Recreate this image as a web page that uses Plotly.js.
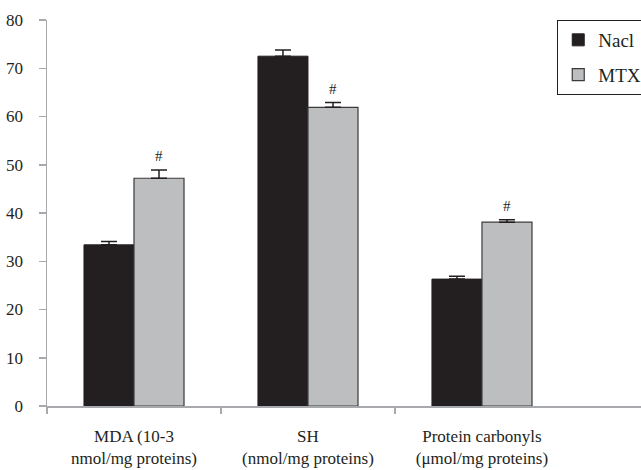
<!DOCTYPE html>
<html><head><meta charset="utf-8">
<script src="https://cdn.plot.ly/plotly-3.0.1.min.js"></script>
<style>html,body{margin:0;padding:0;background:#fff}#chart{width:641px;height:470px}</style>
</head><body><div id="chart"></div>
<script>
var categories = ["MDA (10-3<br>nmol/mg proteins)", "SH<br>(nmol/mg proteins)", "Protein carbonyls<br>(μmol/mg proteins)"];
var catPos = [0, 1, 2];
var naclValues = [33.4, 72.5, 26.3];
var naclErrors = [0.7, 1.3, 0.6];
var mtxValues = [47.2, 61.9, 38.1];
var mtxErrors = [1.7, 1.0, 0.5];
var mtxSig = ["#", "#", "#"];
var yTicks = [0, 10, 20, 30, 40, 50, 60, 70, 80];

var dark = "#231f20", grey = "#bcbec0", axisCol = "#a7a9ac";
var fontFam = "'Liberation Serif', 'DejaVu Serif', serif";

var traces = [
  {type: "bar", name: "Nacl", legendgroup: "a", x: catPos, y: naclValues,
   marker: {color: dark, line: {color: dark, width: 1}},
   error_y: {type: "data", array: naclErrors, symmetric: false, arrayminus: naclErrors.map(function(){return 0;}), color: dark, thickness: 1.5, width: 8}},
  {type: "bar", name: "MTX", legendgroup: "b", x: catPos, y: mtxValues,
   marker: {color: grey, line: {color: "#3a3a3a", width: 1.2}},
   error_y: {type: "data", array: mtxErrors, symmetric: false, arrayminus: mtxErrors.map(function(){return 0;}), color: dark, thickness: 1.5, width: 8}},
  {type: "scatter", x: [-0.5, 0.5, 1.5], y: [0, 0, 0], xaxis: "x2", mode: "markers", marker: {opacity: 0}, showlegend: false, hoverinfo: "skip"}
];

var offset = 0.2874 / 2;
var annotations = mtxSig.map(function(s, i){
  return {x: catPos[i] + offset, y: mtxValues[i] + mtxErrors[i], xref: "x", yref: "y", text: s,
    showarrow: false, yanchor: "bottom", yshift: 4, font: {family: fontFam, size: 15, color: dark}};
});

var layout = {
  width: 641, height: 470,
  margin: {l: 47, r: 0, t: 20, b: 64, pad: 0, autoexpand: false},
  paper_bgcolor: "#fff", plot_bgcolor: "#fff",
  barmode: "group", bargap: 0.425, bargroupgap: 0,
  font: {family: fontFam, size: 17, color: dark},
  xaxis: {range: [-0.5, 2.914], tickvals: catPos, ticktext: categories, ticks: "", showline: true,
    linecolor: axisCol, linewidth: 1.5, showgrid: false, zeroline: false, ticklabelstandoff: 14,
    tickfont: {family: fontFam, size: 17, color: dark}, fixedrange: true, automargin: false},
  xaxis2: {range: [-0.5, 2.914], overlaying: "x", tickvals: [-0.5, 0.5, 1.5], ticktext: ["", "", ""],
    ticks: "outside", ticklen: 7, tickcolor: axisCol, tickwidth: 1.5, showline: false, showgrid: false,
    zeroline: false, side: "bottom", anchor: "y", automargin: false},
  yaxis: {range: [0, 80], tickvals: yTicks, ticks: "outside", ticklen: 7, tickcolor: axisCol, tickwidth: 1.5,
    showline: true, linecolor: axisCol, linewidth: 1.5, showgrid: false, zeroline: false, ticklabelstandoff: 12,
    tickfont: {family: fontFam, size: 17, color: dark}, automargin: false},
  legend: {x: 0.859, xanchor: "left", y: 1, yanchor: "top", bgcolor: "#fff", bordercolor: dark, borderwidth: 1,
    font: {family: fontFam, size: 19, color: dark}, traceorder: "grouped", tracegroupgap: 7, itemwidth: 30},
  annotations: annotations,
  showlegend: true
};

Plotly.newPlot("chart", traces, layout, {displayModeBar: false, staticPlot: true});
</script></body></html>
